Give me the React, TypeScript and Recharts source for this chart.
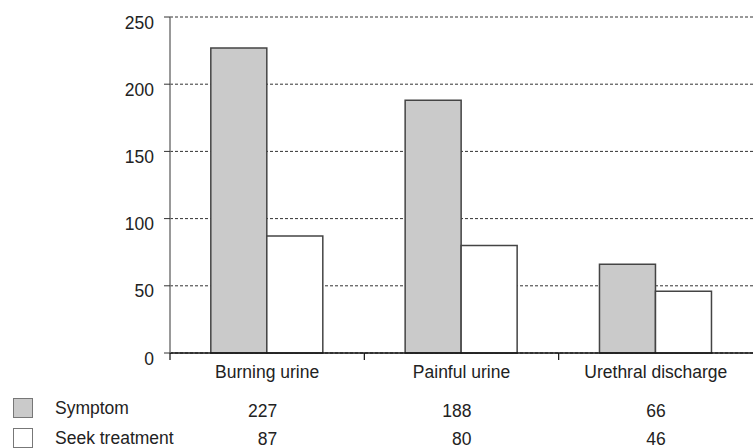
import { BarChart, Bar, XAxis, YAxis, CartesianGrid } from "recharts";

const categories = ["Burning urine", "Painful urine", "Urethral discharge"];
const symptomValues = [227, 188, 66];
const seekTreatmentValues = [87, 80, 46];
const yTicks = [0, 50, 100, 150, 200, 250];

const FONT = "'Liberation Sans', Arial, sans-serif";
const TEXT = "#222";
const GRAY = "#cacaca";

const data = categories.map((name, i) => ({
  name,
  symptom: symptomValues[i],
  seek: seekTreatmentValues[i],
}));

const YTick = ({ x, y, payload }: any) => (
  <text x={x} y={y + 11.5} textAnchor="end" fontSize={17.5} fill={TEXT} fontFamily={FONT}>
    {payload.value}
  </text>
);

// category label, the tick mark at the band's left edge, and the data table cells under it
const CategoryTick = ({ x, y, payload }: any) => {
  const i = payload.index;
  const half = payload.offset ?? 0;
  return (
    <g fontFamily={FONT} fontSize={17.5} fill={TEXT}>
      <line x1={x - half} x2={x - half} y1={y} y2={y + 7} stroke="#111" strokeWidth={1.2} />
      <text x={x} y={y + 25} textAnchor="middle">
        {categories[i]}
      </text>
      <text x={x + 10} y={y + 64} textAnchor="end">
        {symptomValues[i]}
      </text>
      <text x={x + 10} y={y + 92} textAnchor="end">
        {seekTreatmentValues[i]}
      </text>
    </g>
  );
};

const legendRows = [
  { label: "Symptom", fill: GRAY, top: 398 },
  { label: "Seek treatment", fill: "#fff", top: 428 },
];

export default function App() {
  return (
    <div
      style={{
        position: "absolute",
        left: 0,
        top: 0,
        width: 753,
        height: 448,
        background: "#fff",
        fontFamily: FONT,
        overflow: "hidden",
      }}
    >
      <BarChart
        width={753}
        height={448}
        data={data}
        margin={{ top: 17, right: 0, left: 0, bottom: 0 }}
        barCategoryGap="21%"
        barGap={0}
      >
        <CartesianGrid vertical={false} stroke="#333" strokeDasharray="3 2" />
        <XAxis
          dataKey="name"
          height={95}
          tickLine={false}
          tickSize={0}
          tickMargin={0}
          axisLine={{ stroke: "#111", strokeWidth: 1.5 }}
          tick={<CategoryTick />}
          interval={0}
        />
        <YAxis
          width={170}
          domain={[0, 250]}
          ticks={yTicks}
          tickSize={6}
          tickMargin={10}
          axisLine={{ stroke: "#777", strokeWidth: 1.5 }}
          tickLine={{ stroke: "#333" }}
          tick={<YTick />}
        />
        <Bar
          dataKey="symptom"
          name="Symptom"
          fill={GRAY}
          stroke="#444"
          strokeWidth={1.5}
          isAnimationActive={false}
        />
        <Bar
          dataKey="seek"
          name="Seek treatment"
          fill="#fff"
          stroke="#444"
          strokeWidth={1.5}
          isAnimationActive={false}
        />
      </BarChart>
      {legendRows.map((row) => (
        <div key={row.label}>
          <div
            style={{
              position: "absolute",
              left: 13,
              top: row.top,
              width: 18,
              height: 18,
              background: row.fill,
              border: "1px solid #777",
            }}
          />
          <div
            style={{
              position: "absolute",
              left: 55,
              top: row.top,
              fontSize: 17.5,
              lineHeight: "20px",
              color: TEXT,
            }}
          >
            {row.label}
          </div>
        </div>
      ))}
    </div>
  );
}
